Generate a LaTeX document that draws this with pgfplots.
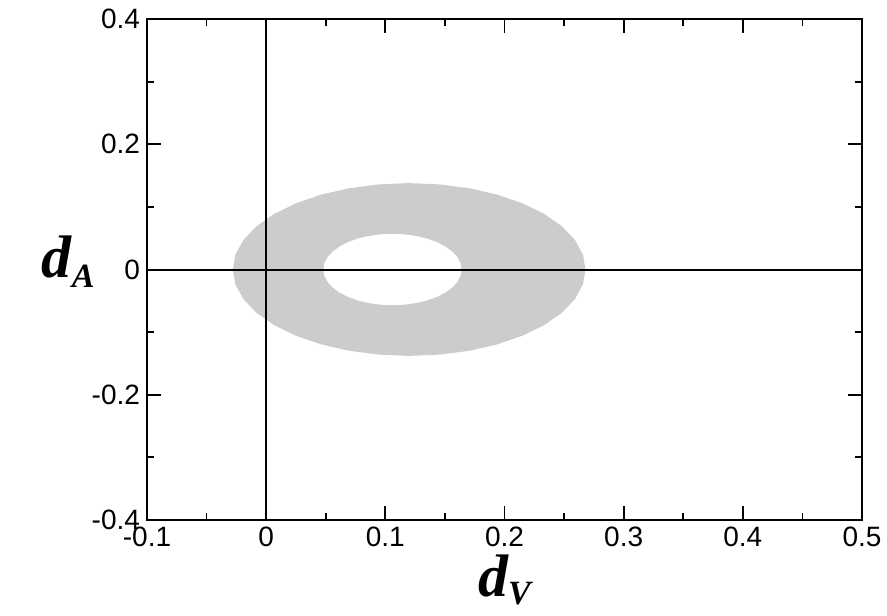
\documentclass[border=0pt]{standalone}
\usepackage{fontspec}
\setmainfont{Liberation Sans}
\newfontfamily\labfont{Liberation Serif}
\usepackage{pgfplots}
\pgfplotsset{compat=1.18}
\begin{document}
\begin{tikzpicture}
\begin{axis}[
  scale only axis, width=357.5pt, height=250.5pt,
  xmin=-0.1, xmax=0.5, ymin=-0.4, ymax=0.4,
  xtick={-0.1,0,0.1,0.2,0.3,0.4,0.5},
  xticklabels={-0.1,0,0.1,0.2,0.3,0.4,0.5},
  ytick={-0.4,-0.2,0,0.2,0.4},
  yticklabels={-0.4,-0.2,0,0.2,0.4},
  minor x tick num=1, minor y tick num=1,
  tick align=inside,
  major tick length=7pt, minor tick length=3.5pt,
  axis line style={line width=1.1pt},
  tick style={black, line width=0.9pt},
  tick label style={font=\fontsize{14}{16}\selectfont},
]
\addplot[draw=none, fill=black!20] coordinates {
(0.268,0) (0.2658,0.0240) (0.2591,0.0472) (0.2482,0.0690) (0.2334,0.0887) (0.2151,0.1057)
(0.194,0.1195) (0.1706,0.1297) (0.1457,0.1359) (0.12,0.138) (0.0943,0.1359) (0.0694,0.1297)
(0.046,0.1195) (0.0249,0.1057) (0.0066,0.0887) (-0.0082,0.0690) (-0.0191,0.0472) (-0.0258,0.0240)
(-0.028,0) (-0.0258,-0.0240) (-0.0191,-0.0472) (-0.0082,-0.0690) (0.0066,-0.0887) (0.0249,-0.1057)
(0.046,-0.1195) (0.0694,-0.1297) (0.0943,-0.1359) (0.12,-0.138) (0.1457,-0.1359) (0.1706,-0.1297)
(0.194,-0.1195) (0.2151,-0.1057) (0.2334,-0.0887) (0.2482,-0.0690) (0.2591,-0.0472) (0.2658,-0.0240)
(0.268,0)
};
\addplot[draw=none, fill=white] coordinates {
(0.164,0) (0.1631,0.0099) (0.1605,0.0195) (0.1562,0.0285) (0.1504,0.0366) (0.1433,0.0437)
(0.135,0.0494) (0.1258,0.0536) (0.1161,0.0561) (0.106,0.057) (0.0959,0.0561) (0.0862,0.0536)
(0.077,0.0494) (0.0687,0.0437) (0.0616,0.0366) (0.0558,0.0285) (0.0515,0.0195) (0.0489,0.0099)
(0.048,0) (0.0489,-0.0099) (0.0515,-0.0195) (0.0558,-0.0285) (0.0616,-0.0366) (0.0687,-0.0437)
(0.077,-0.0494) (0.0862,-0.0536) (0.0959,-0.0561) (0.106,-0.057) (0.1161,-0.0561) (0.1258,-0.0536)
(0.135,-0.0494) (0.1433,-0.0437) (0.1504,-0.0366) (0.1562,-0.0285) (0.1605,-0.0195) (0.1631,-0.0099)
(0.164,0)
};
\addplot[black, line width=1pt] coordinates {(-0.1,0) (0.5,0)};
\addplot[black, line width=1pt] coordinates {(0,-0.4) (0,0.4)};
\end{axis}
\path (current axis.south) ++(0pt,-38pt) node[anchor=base, inner sep=0pt]
  {\fontsize{30}{34}\selectfont\labfont\bfseries\itshape d\raisebox{-4pt}{\fontsize{17}{20}\selectfont\labfont\bfseries\itshape V}};
\path (current axis.west) ++(-26pt,-3.75pt) node[anchor=base east, inner sep=0pt]
  {\fontsize{30}{34}\selectfont\labfont\bfseries\itshape d\raisebox{-5pt}{\fontsize{17}{20}\selectfont\labfont\bfseries\itshape A}};
\pgfresetboundingbox
\path[use as bounding box] ([shift={(-73.5pt,-47.5pt)}]current axis.south west) rectangle ([shift={(370pt,260pt)}]current axis.south west);
\end{tikzpicture}
\end{document}
